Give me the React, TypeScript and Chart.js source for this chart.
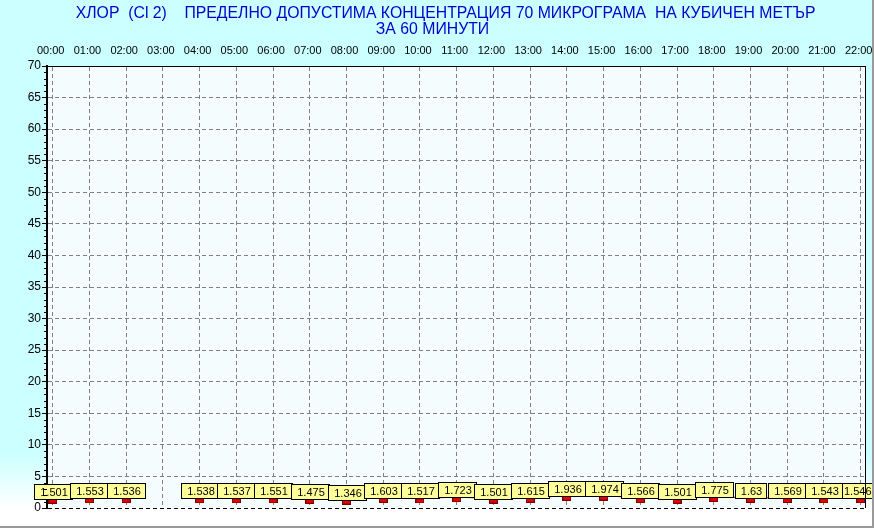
import { useEffect, useRef } from "react";
import { Chart, registerables } from "chart.js";

Chart.register(...registerables);

const titleLines = [
  "      ХЛОР  (Cl 2)    ПРЕДЕЛНО ДОПУСТИМА КОНЦЕНТРАЦИЯ 70 МИКРОГРАМА  НА КУБИЧЕН МЕТЪР",
  "ЗА 60 МИНУТИ",
];

const hours = [
  "00:00", "01:00", "02:00", "03:00", "04:00", "05:00", "06:00", "07:00",
  "08:00", "09:00", "10:00", "11:00", "12:00", "13:00", "14:00", "15:00",
  "16:00", "17:00", "18:00", "19:00", "20:00", "21:00", "22:00",
];

const values: (number | null)[] = [
  1.501, 1.553, 1.536, null, 1.538, 1.537, 1.551, 1.475,
  1.346, 1.603, 1.517, 1.723, 1.501, 1.615, 1.936, 1.974,
  1.566, 1.501, 1.775, 1.63, 1.569, 1.543, 1.546,
];

const yTicks = [0, 5, 10, 15, 20, 25, 30, 35, 40, 45, 50, 55, 60, 65, 70];
const yMinorTicks = Array.from({ length: 71 }, (_, i) => i).filter((v) => v % 5 !== 0);

const FONT = "'Liberation Sans', Arial, sans-serif";

function makeMarker(): HTMLCanvasElement {
  const c = document.createElement("canvas");
  c.width = 9;
  c.height = 10;
  const g = c.getContext("2d")!;
  g.fillStyle = "#e80000";
  g.fillRect(0, 5, 9, 5);
  g.strokeStyle = "#7a0000";
  g.lineWidth = 1;
  g.strokeRect(0.5, 5.5, 8, 4);
  return c;
}

const backgroundPlugin = {
  id: "bgPlugin",
  beforeDraw(chart: any) {
    const { ctx, width, height, chartArea } = chart;
    ctx.save();
    const grad = ctx.createLinearGradient(0, 0, 0, height);
    grad.addColorStop(0, "#ccffff");
    grad.addColorStop(0.86, "#ccffff");
    grad.addColorStop(0.96, "#ffffff");
    ctx.fillStyle = grad;
    ctx.fillRect(0, 0, width, height);
    ctx.fillStyle = "#f5fcfe";
    ctx.fillRect(chartArea.left, chartArea.top, chartArea.right - chartArea.left, chartArea.bottom - chartArea.top);
    ctx.restore();
  },
  afterDraw(chart: any) {
    const { ctx, width, height, chartArea, scales } = chart;
    ctx.save();
    ctx.strokeStyle = "#000000";
    ctx.lineWidth = 1;
    ctx.beginPath();
    ctx.moveTo(Math.round(chartArea.right) + 0.5, chartArea.top);
    ctx.lineTo(Math.round(chartArea.right) + 0.5, chartArea.bottom);
    ctx.stroke();
    const ys = scales.y;
    ctx.beginPath();
    for (const v of yMinorTicks) {
      const py = Math.round(ys.getPixelForValue(v)) + 0.5;
      ctx.moveTo(chartArea.left - 3, py);
      ctx.lineTo(chartArea.left, py);
    }
    ctx.stroke();
    ctx.strokeStyle = "#9a9a9a";
    ctx.lineWidth = 2;
    ctx.beginPath();
    ctx.moveTo(width - 1, 0);
    ctx.lineTo(width - 1, height - 2);
    ctx.lineTo(0, height - 2);
    ctx.stroke();
    ctx.restore();
  },
};

const valueLabelPlugin = {
  id: "valueLabels",
  afterDatasetsDraw(chart: any) {
    const { ctx, width } = chart;
    const meta = chart.getDatasetMeta(0);
    ctx.save();
    ctx.font = "11px " + FONT;
    ctx.textAlign = "center";
    ctx.textBaseline = "middle";
    meta.data.forEach((el: any, i: number) => {
      const v = values[i];
      if (v === null || v === undefined) return;
      const text = String(v);
      const tw = ctx.measureText(text).width;
      const w = Math.round(tw + 10);
      const h = 15;
      const lx = Math.round(el.x - w / 2) + 0.5;
      const top = Math.round(el.y - h) + 0.5;
      const visibleRight = Math.min(lx + w, width - 2);
      ctx.fillStyle = "#ffff99";
      ctx.fillRect(lx, top, w, h);
      ctx.strokeStyle = "#000000";
      ctx.lineWidth = 1;
      ctx.strokeRect(lx, top, w, h);
      ctx.fillStyle = "#000000";
      ctx.fillText(text, (lx + visibleRight) / 2 + 0.5, top + h / 2 + 1);
    });
    ctx.restore();
  },
};

export default function App() {
  const canvasRef = useRef<HTMLCanvasElement | null>(null);

  useEffect(() => {
    document.body.style.margin = "0";
    const canvas = canvasRef.current;
    if (!canvas) return;
    const marker = makeMarker();
    const chart = new Chart(canvas, {
      type: "line",
      data: {
        datasets: [
          {
            data: hours.map((_, i) => ({ x: i, y: values[i] as any })),
            borderColor: "#e00000",
            borderWidth: 1,
            pointStyle: marker as any,
            pointRadius: 5,
            spanGaps: false,
            tension: 0,
          },
        ],
      },
      options: {
        animation: false,
        responsive: false,
        devicePixelRatio: 1,
        layout: { padding: { left: 0, right: 9, top: 0, bottom: 21 } },
        plugins: {
          legend: { display: false },
          tooltip: { enabled: false },
          title: {
            display: true,
            text: titleLines,
            color: "#0000cc",
            font: { family: FONT, size: 15.8, weight: "normal", lineHeight: "16px" as any },
            padding: { top: 6, bottom: 0 },
          },
        },
        scales: {
          x: {
            type: "linear",
            position: "top",
            min: -0.155,
            max: 22.117,
            afterBuildTicks: (s: any) => {
              s.ticks = hours.map((_, i) => ({ value: i }));
            },
            afterFit: (s: any) => {
              s.height = 28;
              s.paddingLeft = 0;
              s.paddingRight = 0;
            },
            ticks: {
              callback: (v: any) => hours[v as number] ?? "",
              color: "#000000",
              font: { family: FONT, size: 11 },
              padding: 8,
              labelOffset: -2,
              autoSkip: false,
              maxRotation: 0,
            },
            grid: { color: "#808080", lineWidth: 1, drawTicks: false },
            border: { display: true, color: "#000000", width: 1, dash: [4, 3] },
          },
          y: {
            type: "linear",
            min: 0,
            max: 70,
            afterBuildTicks: (s: any) => {
              s.ticks = yTicks.map((v) => ({ value: v }));
            },
            afterFit: (s: any) => {
              s.width = 47;
              s.paddingTop = 0;
              s.paddingBottom = 0;
            },
            ticks: {
              color: "#000000",
              font: { family: FONT, size: 12 },
              padding: 1,
            },
            grid: {
              color: (c: any) => (c.tick && (c.tick.value === 0 || c.tick.value === 70) ? "#000000" : "#808080"),
              lineWidth: 1,
              drawTicks: true,
              tickLength: 5,
              tickColor: "#000000",
            },
            border: { display: true, color: "#000000", width: 2, dash: [4, 3] },
          },
        },
      },
      plugins: [backgroundPlugin, valueLabelPlugin],
    });
    return () => chart.destroy();
  }, []);

  return <canvas ref={canvasRef} width={874} height={529} style={{ display: "block" }} />;
}
